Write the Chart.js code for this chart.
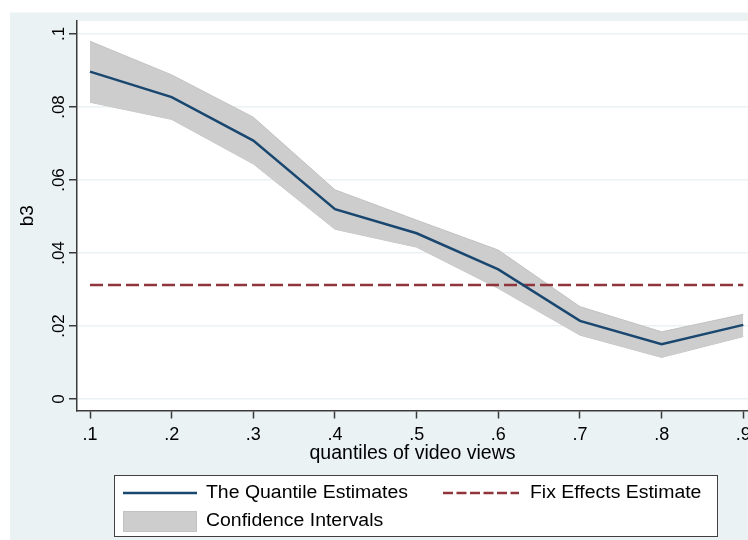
<!DOCTYPE html>
<html><head><meta charset="utf-8">
<script src="https://cdn.jsdelivr.net/npm/chart.js@4.4.1/dist/chart.umd.min.js"></script>
<style>html,body{margin:0;padding:0;background:#fff}canvas{display:block}</style>
</head><body>
<canvas id="c" width="748" height="540"></canvas>
<script>
// ---- data ----
const quantiles = [0.1, 0.2, 0.3, 0.4, 0.5, 0.6, 0.7, 0.8, 0.9];
const xTickLabels = ['.1', '.2', '.3', '.4', '.5', '.6', '.7', '.8', '.9'];
const estimates = [0.0897, 0.0827, 0.0708, 0.0520, 0.0454, 0.0355, 0.0214, 0.0150, 0.0203];
const ciUpper   = [0.0980, 0.0888, 0.0772, 0.0573, 0.0490, 0.0408, 0.0253, 0.0184, 0.0232];
const ciLower   = [0.0813, 0.0766, 0.0644, 0.0465, 0.0416, 0.0303, 0.0175, 0.0114, 0.0171];
const fixEffect = 0.0312;
const yTickValues = [0, 0.02, 0.04, 0.06, 0.08, 0.1];
const yTickLabels = ['0', '.02', '.04', '.06', '.08', '.1'];
const yTitle = 'b3';
const xTitle = 'quantiles of video views';
const legendLabels = ['The Quantile Estimates', 'Fix Effects Estimate', 'Confidence Intervals'];

const FONT = '"Liberation Sans", Arial, sans-serif';
const NAVY = '#1a476f', MAROON = '#90353b', BAND = '#cdcdcd', BAND_EDGE = '#c2c2c2';
const BG = '#eaf2f3', AXIS = '#3a3a3a';

const pts = arr => quantiles.map((q, i) => ({x: q, y: arr[i]}));

const bgPlugin = {
  id: 'bg',
  beforeDraw(chart) {
    const ctx = chart.ctx, a = chart.chartArea;
    ctx.save();
    ctx.fillStyle = '#fff';
    ctx.fillRect(0, 0, chart.width, chart.height);
    ctx.fillStyle = BG;
    ctx.fillRect(10, 12.5, chart.width - 10, chart.height - 12.5);
    ctx.fillStyle = '#fff';
    ctx.fillRect(a.left, a.top, a.right - a.left, a.bottom - a.top);
    ctx.restore();
  }
};

const yLabelPlugin = {
  id: 'ylabels',
  afterDraw(chart) {
    const ctx = chart.ctx, y = chart.scales.y;
    ctx.save();
    ctx.fillStyle = '#000';
    ctx.textAlign = 'center';
    ctx.textBaseline = 'alphabetic';
    ctx.font = '17px ' + FONT;
    yTickValues.forEach((v, i) => {
      const py = y.getPixelForValue(v);
      ctx.save();
      ctx.translate(63.5, py);
      ctx.rotate(-Math.PI / 2);
      ctx.fillText(yTickLabels[i], 0, 0);
      ctx.restore();
    });
    const a = chart.chartArea;
    ctx.font = '19px ' + FONT;
    ctx.save();
    ctx.translate(33, (a.top + a.bottom) / 2);
    ctx.rotate(-Math.PI / 2);
    ctx.fillText(yTitle, 0, 0);
    ctx.restore();
    ctx.restore();
  }
};

function stretchedText(ctx, text, x, y, sx) {
  ctx.save();
  ctx.translate(x, y);
  ctx.scale(sx, 1);
  ctx.fillText(text, 0, 0);
  ctx.restore();
}

const legendPlugin = {
  id: 'boxlegend',
  afterDraw(chart) {
    const ctx = chart.ctx;
    ctx.save();
    ctx.fillStyle = '#fff';
    ctx.fillRect(114.5, 475.5, 603, 61);
    ctx.strokeStyle = '#404040';
    ctx.lineWidth = 1;
    ctx.strokeRect(114.5, 475.5, 603, 61);
    // solid line sample
    ctx.strokeStyle = NAVY; ctx.lineWidth = 2.5;
    ctx.beginPath(); ctx.moveTo(123, 493); ctx.lineTo(197, 493); ctx.stroke();
    // dashed sample
    ctx.strokeStyle = MAROON; ctx.setLineDash([10, 3.5]);
    ctx.beginPath(); ctx.moveTo(443, 493); ctx.lineTo(519, 493); ctx.stroke();
    ctx.setLineDash([]);
    // band sample
    ctx.fillStyle = BAND; ctx.fillRect(123, 511.5, 74, 20);
    ctx.strokeStyle = BAND_EDGE; ctx.lineWidth = 1; ctx.strokeRect(123.5, 511.5, 73, 20);
    ctx.fillStyle = '#000';
    ctx.font = '18px ' + FONT;
    ctx.textBaseline = 'alphabetic';
    ctx.textAlign = 'left';
    stretchedText(ctx, legendLabels[0], 206, 498, 1.08);
    stretchedText(ctx, legendLabels[1], 530, 498, 1.08);
    stretchedText(ctx, legendLabels[2], 206, 526, 1.08);
    ctx.restore();
  }
};

new Chart(document.getElementById('c'), {
  type: 'line',
  data: {
    datasets: [
      {label: 'ci lower', data: pts(ciLower), borderColor: BAND_EDGE, borderWidth: 1, pointRadius: 0, fill: false, order: 3},
      {label: legendLabels[2], data: pts(ciUpper), borderColor: BAND_EDGE, borderWidth: 1, pointRadius: 0, fill: '-1', backgroundColor: BAND, order: 2},
      {label: legendLabels[1], data: quantiles.map(q => ({x: q, y: fixEffect})), borderColor: MAROON, borderWidth: 2.5, borderDash: [13, 5], pointRadius: 0, fill: false, order: 1},
      {label: legendLabels[0], data: pts(estimates), borderColor: NAVY, borderWidth: 2.5, pointRadius: 0, fill: false, order: 0}
    ]
  },
  options: {
    responsive: false,
    animation: false,
    devicePixelRatio: 1,
    layout: {padding: {left: 0, right: 0, top: 21, bottom: 74.5}},
    plugins: {legend: {display: false}, tooltip: {enabled: false}, title: {display: false}},
    elements: {line: {tension: 0}},
    scales: {
      x: {
        type: 'linear', min: 0.08408, max: 0.90576,
        afterBuildTicks: s => { s.ticks = quantiles.map(v => ({value: v})); },
        afterFit: s => { s.height = 55; s.paddingLeft = 0; s.paddingRight = 0; },
        ticks: {
          callback: (v) => xTickLabels[quantiles.findIndex(q => Math.abs(q - v) < 1e-9)],
          font: {family: FONT, size: 18, lineHeight: 1.2}, color: '#000', padding: 6,
          maxRotation: 0, minRotation: 0, autoSkip: false
        },
        grid: {drawOnChartArea: false, drawTicks: true, tickLength: 8, tickColor: AXIS, tickWidth: 1.5},
        border: {display: true, color: AXIS, width: 1.5},
        title: {display: true, text: xTitle, font: {family: FONT, size: 19.5, lineHeight: 1.2}, color: '#000', padding: 0}
      },
      y: {
        type: 'linear', min: -0.00315, max: 0.10356,
        afterBuildTicks: s => { s.ticks = yTickValues.map(v => ({value: v})); },
        afterFit: s => { s.width = 77; s.paddingTop = 0; s.paddingBottom = 0; },
        ticks: {display: false},
        grid: {color: BG, lineWidth: 1.5, drawTicks: true, tickLength: 8, tickColor: AXIS, tickWidth: 1.5},
        border: {display: true, color: AXIS, width: 1.5}
      }
    }
  },
  plugins: [bgPlugin, yLabelPlugin, legendPlugin]
});
</script>
</body></html>
